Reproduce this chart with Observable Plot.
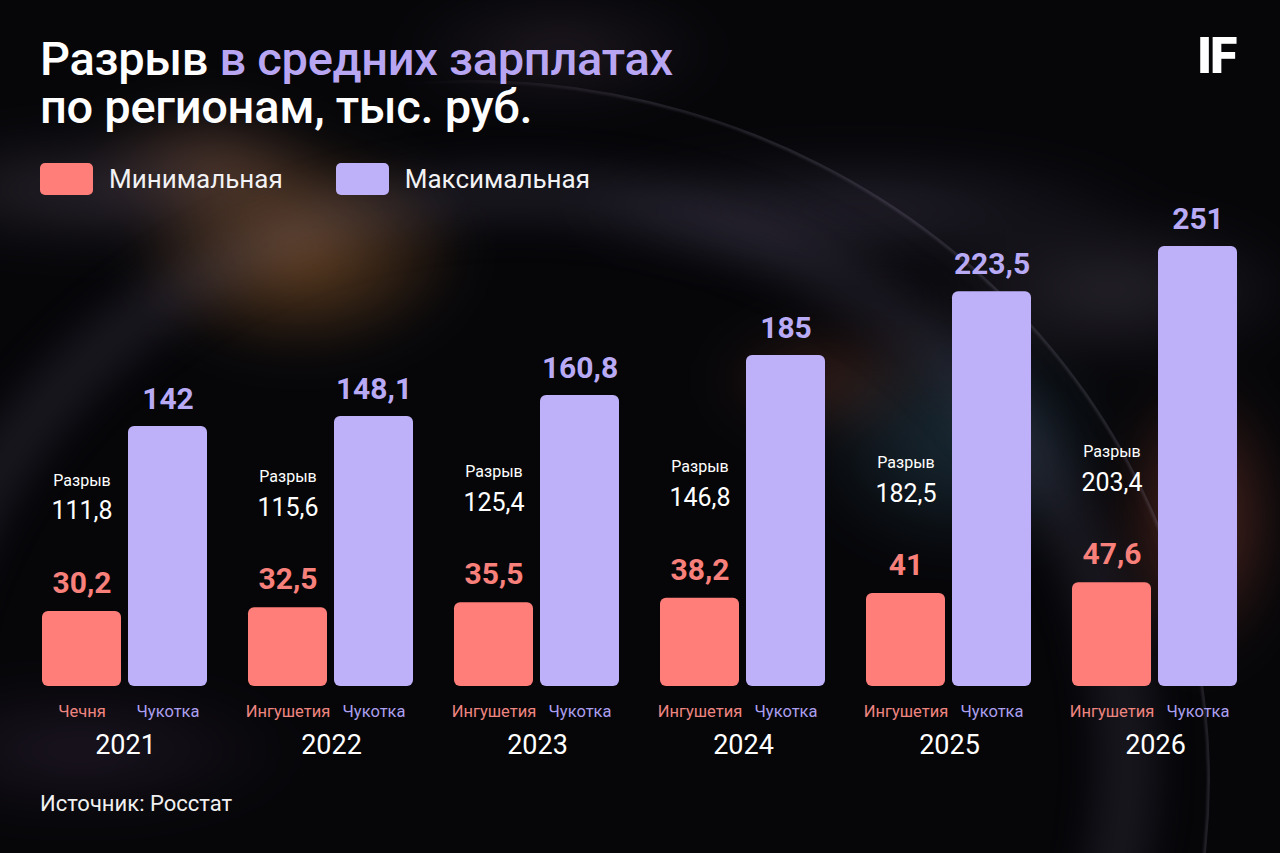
<!DOCTYPE html>
<html><head><meta charset="utf-8">
<script src="https://cdn.jsdelivr.net/npm/d3@7"></script>
<script src="https://cdn.jsdelivr.net/npm/@observablehq/plot@0.6"></script>
<style>
html,body{margin:0;padding:0;background:#050507;}
#root{position:relative;width:1280px;height:853px;overflow:hidden;background:#060609;font-family:Roboto,"Noto Sans",sans-serif;color:#fff;}
#bg{position:absolute;inset:-40px;filter:blur(22px);
background:
 radial-gradient(ellipse 170px 110px at 340px 290px, rgba(165,105,50,0.6), rgba(0,0,0,0) 100%),
 radial-gradient(ellipse 120px 60px at 250px 200px, rgba(140,95,70,0.45), rgba(0,0,0,0) 100%),
 radial-gradient(ellipse 260px 60px at 150px 230px, rgba(100,85,105,0.4), rgba(0,0,0,0) 100%),
 radial-gradient(ellipse 300px 60px at 900px 250px, rgba(90,80,110,0.35), rgba(0,0,0,0) 100%),
 radial-gradient(ellipse 160px 120px at 1000px 480px, rgba(45,80,100,0.5), rgba(0,0,0,0) 100%),
 radial-gradient(ellipse 120px 60px at 870px 420px, rgba(140,70,50,0.35), rgba(0,0,0,0) 100%),
 radial-gradient(ellipse 90px 150px at 1240px 560px, rgba(160,75,55,0.5), rgba(0,0,0,0) 100%),
 radial-gradient(ellipse 200px 80px at 1150px 330px, rgba(100,90,110,0.35), rgba(0,0,0,0) 100%),
 radial-gradient(ellipse 160px 60px at 600px 90px, rgba(90,70,90,0.3), rgba(0,0,0,0) 100%),
 radial-gradient(ellipse 220px 70px at 120px 790px, rgba(70,50,80,0.35), rgba(0,0,0,0) 100%),
 #060609;}
.arc{position:absolute;border-radius:50%;box-sizing:border-box;}
#arc1{left:-270px;top:80px;width:1480px;height:1400px;border:2px solid rgba(190,180,210,0.3);filter:blur(1.5px);
  -webkit-mask-image:linear-gradient(to right, transparent 45%, #000 62%);mask-image:linear-gradient(to right, transparent 45%, #000 62%);}
#arc2{left:-110px;top:170px;width:1260px;height:1180px;border:46px solid rgba(110,100,130,0.22);filter:blur(22px);}
#chart{position:absolute;left:0;top:0;}
.tl{position:absolute;left:40px;font-size:47px;line-height:47px;height:47px;font-weight:500;letter-spacing:-0.3px;white-space:nowrap;}
.tl .hl{color:#b8a6f2;}
.legend{position:absolute;left:40px;top:163px;display:flex;align-items:center;font-size:26px;}
.sw{width:53px;height:32px;border-radius:5px;margin-right:16px;}
.item{display:flex;align-items:center;margin-right:53px;color:#f2f2f4;}
.logo{position:absolute;left:1197px;top:27px;font-size:50px;font-weight:900;letter-spacing:-2px;font-family:Roboto,sans-serif;}
.source{position:absolute;left:40px;top:791px;font-size:22px;color:#f0f0f0;}
</style></head>
<body>
<div id="root">
<div id="bg"></div>
<div class="arc" id="arc2"></div>
<div class="arc" id="arc1"></div>
<div id="chart"></div>
<div class="tl" style="top:35px">Разрыв <span class="hl">в средних зарплатах</span></div>
<div class="tl" style="top:83px">по регионам, тыс. руб.</div>
<div class="logo">IF</div>
<div class="legend" id="legend"></div>
<div class="source">Источник: Росстат</div>
</div>
<script>
const years = ["2021", "2022", "2023", "2024", "2025", "2026"];
const minValues = [30.2, 32.5, 35.5, 38.2, 41, 47.6];
const maxValues = [142, 148.1, 160.8, 185, 223.5, 251];
const gapValues = [111.8, 115.6, 125.4, 146.8, 182.5, 203.4];
const minRegions = ["Чечня", "Ингушетия", "Ингушетия", "Ингушетия", "Ингушетия", "Ингушетия"];
const maxRegions = ["Чукотка", "Чукотка", "Чукотка", "Чукотка", "Чукотка", "Чукотка"];
const seriesKeys = ["min", "max"];
const seriesNames = ["Минимальная", "Максимальная"];

const barColors = ["#ff7e79", "#bfb0fa"];
const valueColors = ["#f8807b", "#b9aaf6"];
const regionColors = ["#ee8580", "#ab9fee"];

const rows = [];
years.forEach((y, i) => {
  rows.push({year: y, type: "min", value: minValues[i], region: minRegions[i], gap: gapValues[i]});
  rows.push({year: y, type: "max", value: maxValues[i], region: maxRegions[i]});
});
const minRows = rows.filter(d => d.type === "min");
const maxRows = rows.filter(d => d.type === "max");
const fmt = v => String(v).replace(".", ",");
const base = -15.2;

const legend = document.getElementById("legend");
seriesNames.forEach((n, i) => {
  const it = document.createElement("div");
  it.className = "item";
  it.innerHTML = `<div class="sw" style="background:${barColors[i]}"></div><span>${n}</span>`;
  legend.appendChild(it);
});

const chart = Plot.plot({
  width: 1280, height: 853,
  marginLeft: 40, marginRight: 40, marginTop: 231, marginBottom: 167,
  style: {background: "transparent", overflow: "visible", fontFamily: "Roboto, sans-serif"},
  fx: {domain: years, paddingInner: 0.194, paddingOuter: 0, axis: null},
  x: {domain: seriesKeys, paddingInner: 0.08, paddingOuter: 0, axis: null},
  y: {domain: [base, 260], axis: null},
  color: {domain: seriesKeys, range: barColors},
  marks: [
    Plot.barY(rows, {fx: "year", x: "type", y1: base, y2: "value", fill: "type", rx: 6}),
    Plot.text(maxRows, {fx: "year", x: "type", y: "value", text: d => fmt(d.value), dy: -27,
      fill: valueColors[1], fontSize: 30, fontWeight: 700}),
    Plot.text(minRows, {fx: "year", x: "type", y: "value", text: d => fmt(d.value), dy: -28,
      fill: valueColors[0], fontSize: 30, fontWeight: 700}),
    Plot.text(minRows, {fx: "year", x: "type", y: "value", text: d => fmt(d.gap), dy: -100,
      fill: "#ffffff", fontSize: 25}),
    Plot.text(minRows, {fx: "year", x: "type", y: "value", text: () => "Разрыв", dy: -131,
      fill: "#ffffff", fontSize: 16}),
    Plot.text(minRows, {fx: "year", x: "type", frameAnchor: "bottom", text: "region", dy: 30,
      fill: regionColors[0], fontSize: 16.5}),
    Plot.text(maxRows, {fx: "year", x: "type", frameAnchor: "bottom", text: "region", dy: 30,
      fill: regionColors[1], fontSize: 16.5}),
    Plot.text(years, {fx: d => d, frameAnchor: "bottom", text: d => d, dy: 67,
      fill: "#ffffff", fontSize: 27})
  ]
});
document.getElementById("chart").appendChild(chart);
</script>
</body></html>
